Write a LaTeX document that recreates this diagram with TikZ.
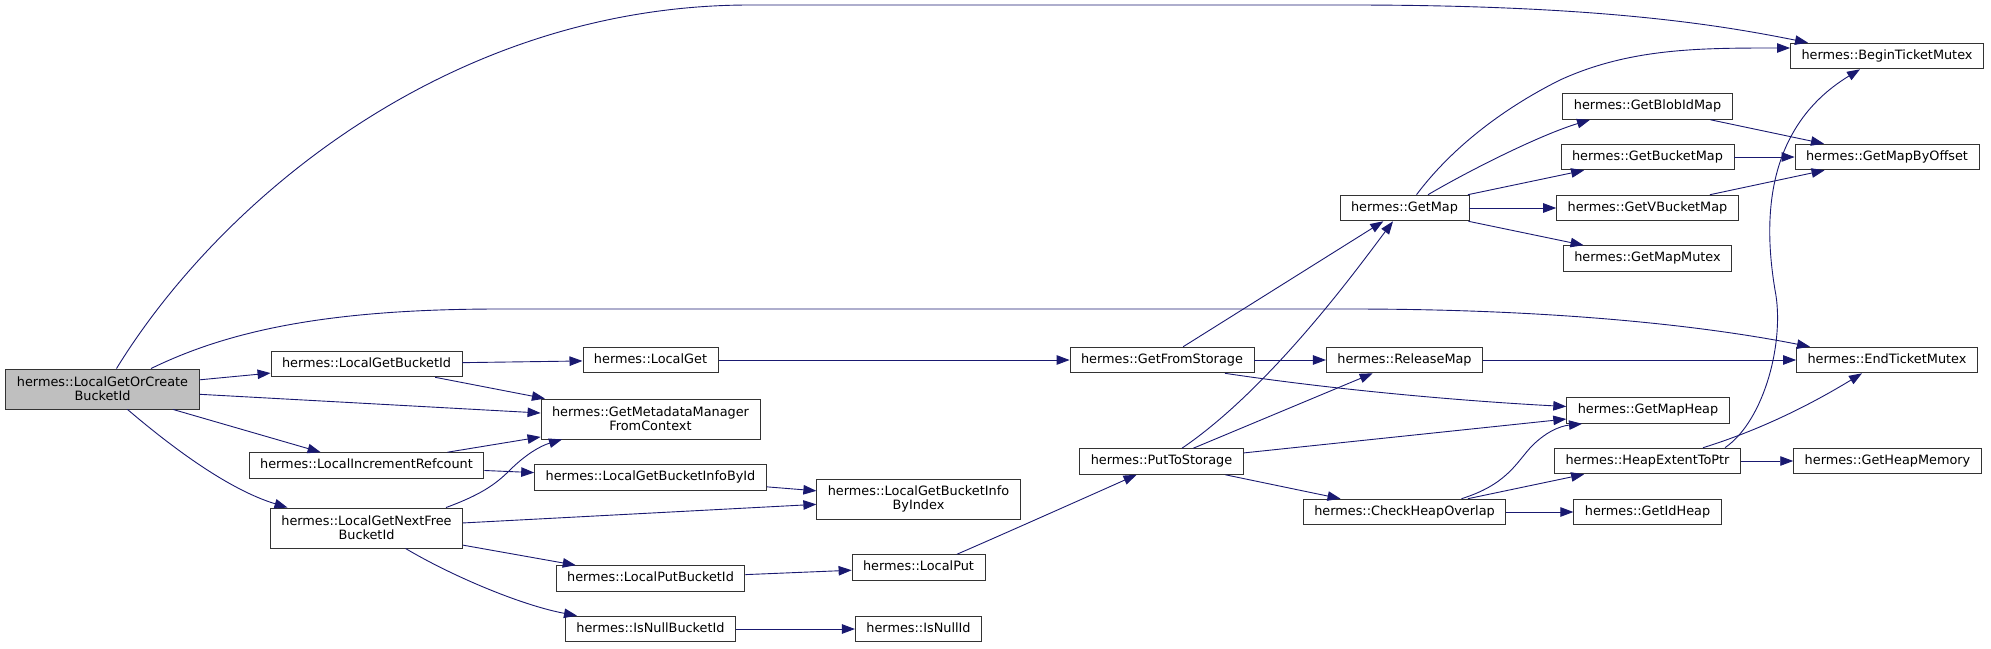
\documentclass[tikz,border=0pt]{standalone}
\usepackage{fontspec}
\usetikzlibrary{arrows.meta}
\newfontfamily\dgfont{DejaVu Sans}
\definecolor{midnightblue}{HTML}{191970}
\definecolor{grey75}{HTML}{BFBFBF}
\tikzset{
  fn/.style={draw=black!80, line width=0.9pt, fill=white, inner xsep=11pt, inner ysep=0pt,
    minimum height=25.7pt, text height=9.6pt, text depth=2.7pt,
    font={\dgfont\fontsize{12.85}{14.3}\selectfont}},
  fntwo/.style={fn, text height={}, text depth={}, align=center, minimum height=40pt},
  call/.style={draw=midnightblue, line width=0.9pt, -{Triangle[length=13pt,width=9.5pt]}},
}
\begin{document}
\begin{tikzpicture}[x=1pt, y=-1pt]
    \useasboundingbox (0,0) rectangle (1991,648);
    \node[fntwo, fill=grey75] (lgoc) at (102.5,389) {hermes::LocalGetOrCreate\\BucketId};
    \node[fn] (lgbi) at (366.5,364) {hermes::LocalGetBucketId};
    \node[fn] (lir) at (366.5,465.5) {hermes::LocalIncrementRefcount};
    \node[fntwo] (lgnf) at (366.5,528) {hermes::LocalGetNextFree\\BucketId};
    \node[fn] (lget) at (650.5,360) {hermes::LocalGet};
    \node[fntwo] (gmm) at (650.5,419) {hermes::GetMetadataManager\\FromContext};
    \node[fn] (lgbibi) at (650.5,477.5) {hermes::LocalGetBucketInfoById};
    \node[fntwo] (lgbibx) at (918.5,499) {hermes::LocalGetBucketInfo\\ByIndex};
    \node[fn] (lpbi) at (650.5,578.5) {hermes::LocalPutBucketId};
    \node[fn] (lput) at (918.5,567.5) {hermes::LocalPut};
    \node[fn] (inbi) at (650.5,629) {hermes::IsNullBucketId};
    \node[fn] (isnull) at (918.5,629) {hermes::IsNullId};
    \node[fn] (gfs) at (1162,360) {hermes::GetFromStorage};
    \node[fn] (pts) at (1161.5,461.5) {hermes::PutToStorage};
    \node[fn] (gmap) at (1404.5,208) {hermes::GetMap};
    \node[fn] (relmap) at (1404.5,360) {hermes::ReleaseMap};
    \node[fn] (cho) at (1404.5,512) {hermes::CheckHeapOverlap};
    \node[fn] (btm) at (1887,56) {hermes::BeginTicketMutex};
    \node[fn] (blob) at (1647.5,106.5) {hermes::GetBlobIdMap};
    \node[fn] (bmap) at (1647.5,157) {hermes::GetBucketMap};
    \node[fn] (vbmap) at (1647.5,208) {hermes::GetVBucketMap};
    \node[fn] (mutex) at (1647.5,258.5) {hermes::GetMapMutex};
    \node[fn] (gmbo) at (1887,157) {hermes::GetMapByOffset};
    \node[fn] (etm) at (1887,360) {hermes::EndTicketMutex};
    \node[fn] (mheap) at (1648,410.5) {hermes::GetMapHeap};
    \node[fn] (hetp) at (1647.5,461) {hermes::HeapExtentToPtr};
    \node[fn] (hmem) at (1887.5,461) {hermes::GetHeapMemory};
    \node[fn] (idheap) at (1647.5,512) {hermes::GetIdHeap};
    \foreach \a/\b in {lgoc/lgbi, lgoc/gmm, lgoc/lir, lgbi/lget, lgbi/gmm, lir/gmm, lir/lgbibi,
        lgnf/lgbibx, lgnf/lpbi, lgbibi/lgbibx, lpbi/lput, inbi/isnull, lget/gfs, gfs/gmap,
        gfs/relmap, pts/relmap, pts/mheap, pts/cho, gmap/bmap, gmap/vbmap, gmap/mutex,
        relmap/etm, cho/hetp, cho/idheap, blob/gmbo, bmap/gmbo, vbmap/gmbo, hetp/hmem}
        \draw[call] (\a) -- (\b);
    \draw[call] ([xshift=14pt]lgoc.north) .. controls (220,200) and (450,5) .. (750,5) -- (1350,5)
        .. controls (1600,5) and (1720,25) .. ([xshift=-79pt]btm.north);
    \draw[call] ([xshift=48.5pt]lgoc.north) .. controls (230,330) and (330,309) .. (500,309) -- (1350,309)
        .. controls (1550,309) and (1700,325) .. ([xshift=-77pt]etm.north);
    \draw[call] ([xshift=25pt]lgoc.south) .. controls (175,450) and (230,490) .. ([xshift=-79pt]lgnf.north);
    \draw[call] ([xshift=79.5pt]lgnf.north) .. controls (480,495) and (495,485) .. (510,470)
        .. controls (525,455) and (540,446) .. ([xshift=-88.5pt]gmm.south);
    \draw[call] ([xshift=39pt]lgnf.south) .. controls (450,575) and (520,605) .. ([xshift=-73.5pt]inbi.north);
    \draw[call] ([xshift=38.5pt]lput.north) .. controls (990,540) and (1080,500) .. ([xshift=-25pt]pts.south);
    \draw[call] ([xshift=63pt]gfs.south) .. controls (1350,392) and (1480,402) .. ([yshift=4pt]mheap.west);
    \draw[call] ([xshift=20.5pt]pts.north) .. controls (1272,387) and (1360,265) .. ([xshift=-11.5pt]gmap.south);
    \draw[call] ([xshift=12pt]gmap.north) .. controls (1450,150) and (1500,110) .. (1560,80)
        .. controls (1630,48) and (1700,48) .. ([yshift=8pt]btm.west);
    \draw[call] ([xshift=23.5pt]gmap.north) .. controls (1470,170) and (1540,135) .. ([xshift=-57.5pt]blob.south);
    \draw[call] ([xshift=57pt]cho.north) .. controls (1505,485) and (1515,465) .. (1530,448)
        .. controls (1545,432) and (1560,426) .. ([xshift=-66pt]mheap.south);
    \draw[call] ([xshift=77.5pt]hetp.north) .. controls (1765,420) and (1785,340) .. (1775,290)
        .. controls (1765,230) and (1760,130) .. ([xshift=-27pt]btm.south);
    \draw[call] ([xshift=55.5pt]hetp.north) .. controls (1760,430) and (1810,405) .. ([xshift=-25pt]etm.south);
\end{tikzpicture}
\end{document}
